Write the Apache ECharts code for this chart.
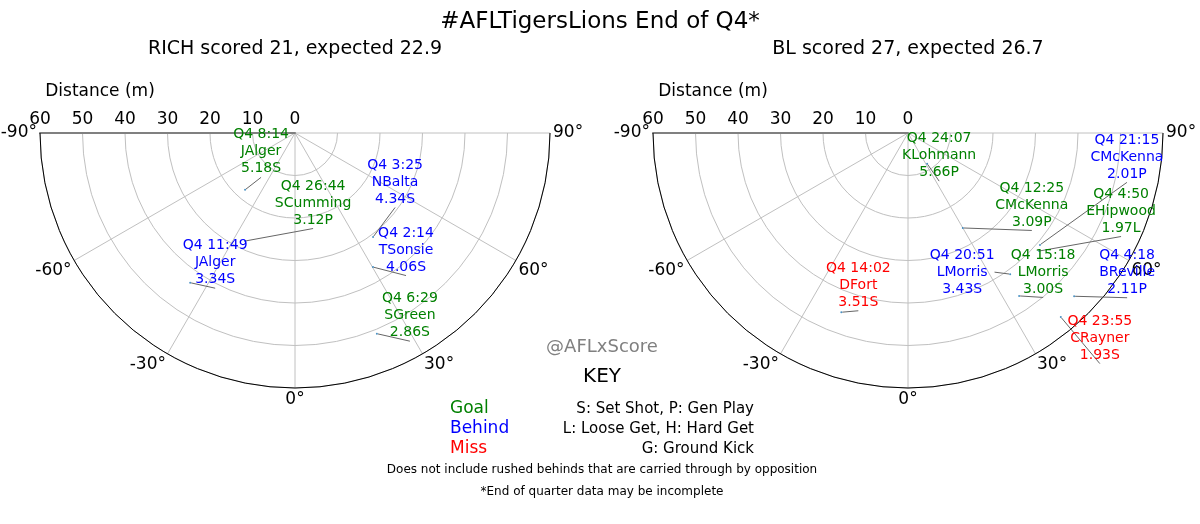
<html>
<head>
<meta charset="utf-8">
<script src="https://cdn.jsdelivr.net/npm/echarts@6/dist/echarts.min.js"></script>
</head>
<body style="margin:0">
<div id="main" style="width:1200px;height:524px;"></div>
<script>
// shot data: [distance m, angle deg]
var richTimes   = ['Q4 8:14', 'Q4 3:25', 'Q4 26:44', 'Q4 2:14', 'Q4 11:49', 'Q4 6:29'];
var richPlayers = ['JAlger', 'NBalta', 'SCumming', 'TSonsie', 'JAlger', 'SGreen'];
var richXs      = ['5.18S', '4.34S', '3.12P', '4.06S', '3.34S', '2.86S'];
var richResult  = ['Goal', 'Behind', 'Goal', 'Behind', 'Behind', 'Goal'];
var richDist    = [17.8, 30.6, 28.0, 36.5, 43.0, 51.0];
var richAngle   = [-41.3, 36.9, -24.8, 30.2, -35.0, 22.2];

var blTimes   = ['Q4 24:07', 'Q4 12:25', 'Q4 21:15', 'Q4 4:50', 'Q4 20:51', 'Q4 15:18', 'Q4 4:18', 'Q4 23:55', 'Q4 14:02'];
var blPlayers = ['KLohmann', 'CMcKenna', 'CMcKenna', 'EHipwood', 'LMorris', 'LMorris', 'BReville', 'CRayner', 'DFort'];
var blXs      = ['5.66P', '3.09P', '2.01P', '1.97L', '3.43S', '3.00S', '2.11P', '1.93S', '3.51S'];
var blResult  = ['Goal', 'Goal', 'Behind', 'Goal', 'Behind', 'Goal', 'Behind', 'Miss', 'Miss'];
var blDist    = [8.5, 25.8, 40.7, 41.5, 41.0, 46.4, 54.8, 56.3, 45.0];
var blAngle   = [32, 30.0, 49.7, 48.0, 35.9, 34.3, 45.5, 39.7, -20.4];

// label offsets in px (layout only)
var richOffsets = [[16, -38], [22, -55], [68, -38], [33, -17], [25, -20], [33, -18]];
var blOffsets   = [[12, -8], [69, -23], [87, -88], [82, -40], [-48, -2], [24, -24], [53, -24], [39, 21], [17, -27]];

var colors = { Goal: '#008000', Behind: '#0000ff', Miss: '#ff0000' };
var font = 'DejaVu Sans';

function points(times, players, xs, res, dist, ang, offs) {
    return dist.map(function (d, i) {
        return {
            value: [d, ang[i]],
            itemStyle: { color: '#1f77b4' },
            label: {
                show: true,
                formatter: times[i] + '\n' + players[i] + '\n' + xs[i],
                color: colors[res[i]],
                opacity: 1,
                textBorderWidth: 0,
                offset: offs[i],
                position: 'inside',
                fontSize: 14,
                lineHeight: 17,
                fontFamily: font
            }
        };
    });
}

function angleAxis(idx) {
    return {
        polarIndex: idx, type: 'value', min: -90, max: 90, interval: 30,
        startAngle: 180, endAngle: 360, clockwise: false,
        axisLine: { lineStyle: { color: '#000', width: 1 } },
        axisTick: { show: false },
        axisLabel: { formatter: '{value}°', fontSize: 17, color: '#000', fontFamily: font, margin: 3, showMinLabel: true, showMaxLabel: true },
        splitLine: { lineStyle: { color: '#c0c0c0', width: 1 } }
    };
}
function radiusAxis(idx) {
    return {
        polarIndex: idx, type: 'value', min: 0, max: 60, interval: 10,
        axisLine: { lineStyle: { color: '#808080', width: 2 } },
        axisTick: { show: false },
        axisLabel: { fontSize: 17, color: '#000', fontFamily: font, margin: -22 },
        splitLine: { lineStyle: { color: '#c0c0c0', width: 1 } }
    };
}
function scatter(idx, data) {
    return {
        type: 'scatter', coordinateSystem: 'polar', polarIndex: idx,
        symbolSize: 2, data: data,
        labelLine: { show: true, lineStyle: { color: '#666', width: 1 } },
        z: 5
    };
}

var chart = echarts.init(document.getElementById('main'));
chart.setOption({
    backgroundColor: '#fff',
    animation: false,
    title: {
        text: '#AFLTigersLions End of Q4*', left: 'center', top: 6,
        textStyle: { fontSize: 23, fontWeight: 'normal', color: '#000', fontFamily: font }
    },
    polar: [
        { center: [295, 133], radius: 255 },
        { center: [908, 133], radius: 255 }
    ],
    angleAxis: [angleAxis(0), angleAxis(1)],
    radiusAxis: [radiusAxis(0), radiusAxis(1)],
    series: [
        scatter(0, points(richTimes, richPlayers, richXs, richResult, richDist, richAngle, richOffsets)),
        scatter(1, points(blTimes, blPlayers, blXs, blResult, blDist, blAngle, blOffsets))
    ],
    graphic: [
        { type: 'text', x: 295, y: 40, style: { text: 'RICH scored 21, expected 22.9', fontSize: 19, fill: '#000', fontFamily: font, align: 'center' } },
        { type: 'text', x: 908, y: 40, style: { text: 'BL scored 27, expected 26.7', fontSize: 19, fill: '#000', fontFamily: font, align: 'center' } },
        { type: 'text', x: 100, y: 83, style: { text: 'Distance (m)', fontSize: 17, fill: '#000', fontFamily: font, align: 'center' } },
        { type: 'text', x: 713, y: 83, style: { text: 'Distance (m)', fontSize: 17, fill: '#000', fontFamily: font, align: 'center' } },
        { type: 'text', x: 602, y: 338, style: { text: '@AFLxScore', fontSize: 18, fill: '#808080', fontFamily: font, align: 'center' } },
        { type: 'text', x: 602, y: 367, style: { text: 'KEY', fontSize: 20, fill: '#000', fontFamily: font, align: 'center' } },
        { type: 'text', x: 450, y: 400, style: { text: 'Goal', fontSize: 17, fill: '#008000', fontFamily: font } },
        { type: 'text', x: 450, y: 420, style: { text: 'Behind', fontSize: 17, fill: '#0000ff', fontFamily: font } },
        { type: 'text', x: 450, y: 440, style: { text: 'Miss', fontSize: 17, fill: '#ff0000', fontFamily: font } },
        { type: 'text', x: 754, y: 402, style: { text: 'S: Set Shot, P: Gen Play', fontSize: 15, fill: '#000', fontFamily: font, align: 'right' } },
        { type: 'text', x: 754, y: 422, style: { text: 'L: Loose Get, H: Hard Get', fontSize: 15, fill: '#000', fontFamily: font, align: 'right' } },
        { type: 'text', x: 754, y: 442, style: { text: 'G: Ground Kick', fontSize: 15, fill: '#000', fontFamily: font, align: 'right' } },
        { type: 'text', x: 602, y: 464, style: { text: 'Does not include rushed behinds that are carried through by opposition', fontSize: 12, fill: '#000', fontFamily: font, align: 'center' } },
        { type: 'text', x: 602, y: 486, style: { text: '*End of quarter data may be incomplete', fontSize: 12, fill: '#000', fontFamily: font, align: 'center' } }
    ]
});
</script>
</body>
</html>
